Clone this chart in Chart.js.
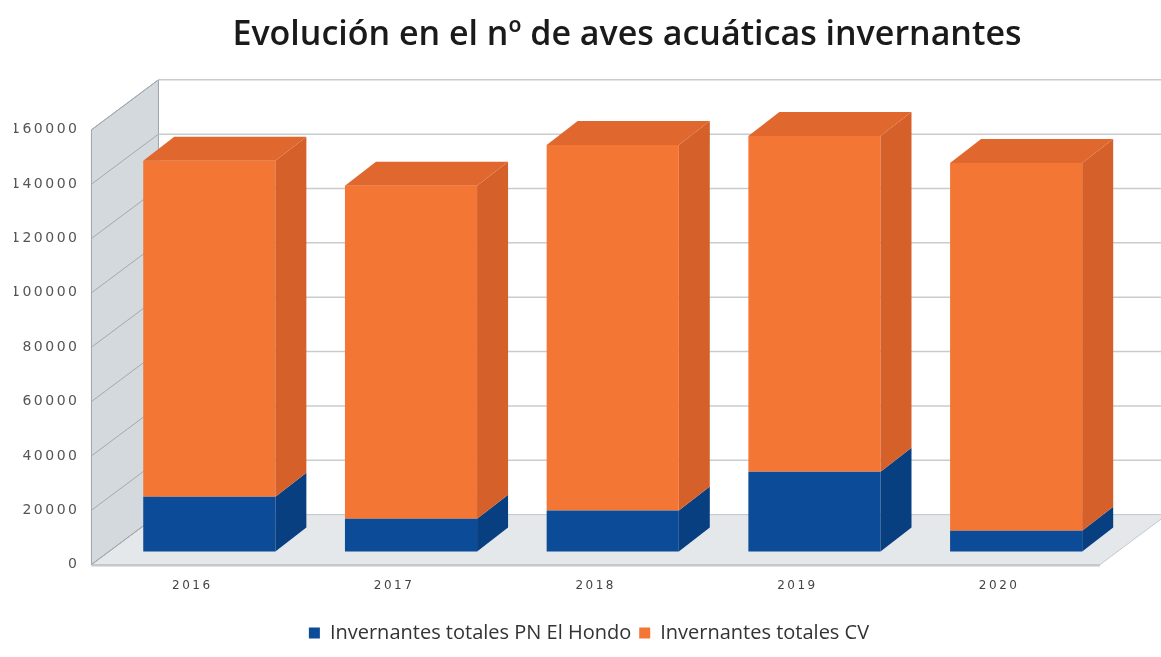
<!DOCTYPE html>
<html>
<head>
<meta charset="utf-8">
<script src="https://cdn.jsdelivr.net/npm/chart.js@4"></script>
<style>
  body { margin: 0; background: #fff; }
  #wrap { width: 1161px; height: 657px; }
</style>
</head>
<body>
<div id="wrap"><canvas id="myChart"></canvas></div>
<script>
// datos
const years = ['2016', '2017', '2018', '2019', '2020'];
const elHondo = [20200, 12100, 15100, 29400, 7700];
const totalCV = [123600, 122500, 134500, 123500, 135300];
const yTicks = [0, 20000, 40000, 60000, 80000, 100000, 120000, 140000, 160000];

// profundidad 3D
const DX = 67, DY = 50;          // fondo del suelo / pared
const BX = 17, BY = 13;          // cara frontal de las barras
const BDX = 31, BDY = 24;        // grosor de las barras

const sideColors = ['#083f80', '#d5602a'];
const topColors = ['#0a4688', '#e0672d'];

const escena3d = {
    id: 'escena3d',
    afterLayout(chart) {
        // el titulo y la leyenda no estan centrados en el lienzo
        chart.titleBlock.left += 70;
        chart.titleBlock.right += 70;
        chart.legend.left += 32;
        chart.legend.right += 32;
        chart.legend.top += 8;
        chart.legend.bottom += 8;
    },
    beforeDatasetsDraw(chart) {
        const ctx = chart.ctx;
        const y = chart.scales.y;
        const a = chart.chartArea;
        const L = a.left, R = a.right;
        const y0 = y.getPixelForValue(0);
        const yTop = y.getPixelForValue(160000);
        ctx.save();
        // suelo
        ctx.beginPath();
        ctx.moveTo(L, y0);
        ctx.lineTo(R, y0);
        ctx.lineTo(R + DX, y0 - DY);
        ctx.lineTo(L + DX, y0 - DY);
        ctx.closePath();
        ctx.fillStyle = '#e4e8eb';
        ctx.fill();
        ctx.strokeStyle = '#c3c7ca';
        ctx.lineWidth = 1;
        ctx.stroke();
        // pared izquierda
        ctx.beginPath();
        ctx.moveTo(L, y0);
        ctx.lineTo(L, yTop);
        ctx.lineTo(L + DX, yTop - DY);
        ctx.lineTo(L + DX, y0 - DY);
        ctx.closePath();
        ctx.fillStyle = '#d4d9dd';
        ctx.fill();
        ctx.strokeStyle = '#9da3a8';
        ctx.stroke();
        // lineas de la cuadricula
        yTicks.forEach(v => {
            const py = y.getPixelForValue(v);
            ctx.beginPath();
            ctx.moveTo(L, py);
            ctx.lineTo(L + DX, py - DY);
            ctx.strokeStyle = '#a3a9ae';
            ctx.stroke();
            if (v > 0) {
                ctx.beginPath();
                ctx.moveTo(L + DX, py - DY);
                ctx.lineTo(R + DX, py - DY);
                ctx.strokeStyle = '#c9cbcd';
                ctx.lineWidth = 1.5;
                ctx.stroke();
                ctx.lineWidth = 1;
            }
        });
        // borde frontal del suelo
        ctx.beginPath();
        ctx.moveTo(L, y0 + 1);
        ctx.lineTo(R, y0 + 1);
        ctx.strokeStyle = '#c4c8cb';
        ctx.lineWidth = 2;
        ctx.stroke();
        ctx.restore();

        ctx.save();
        ctx.translate(BX, -BY);
    },
    afterDatasetsDraw(chart) {
        const ctx = chart.ctx;
        chart.data.datasets.forEach((ds, i) => {
            const meta = chart.getDatasetMeta(i);
            meta.data.forEach(bar => {
                const r = bar.x + bar.width / 2;
                const l = bar.x - bar.width / 2;
                // lateral
                ctx.beginPath();
                ctx.moveTo(r, bar.y);
                ctx.lineTo(r + BDX, bar.y - BDY);
                ctx.lineTo(r + BDX, bar.base - BDY);
                ctx.lineTo(r, bar.base);
                ctx.closePath();
                ctx.fillStyle = sideColors[i];
                ctx.fill();
                // tapa superior (solo la serie de arriba)
                if (i === chart.data.datasets.length - 1) {
                    ctx.beginPath();
                    ctx.moveTo(l, bar.y);
                    ctx.lineTo(l + BDX, bar.y - BDY);
                    ctx.lineTo(r + BDX, bar.y - BDY);
                    ctx.lineTo(r, bar.y);
                    ctx.closePath();
                    ctx.fillStyle = topColors[i];
                    ctx.fill();
                }
            });
        });
        ctx.restore();
        // las etiquetas de los ejes (z: 1) van mas espaciadas
        ctx.letterSpacing = '2.5px';
    },
    afterDraw(chart) {
        chart.ctx.letterSpacing = '0px';
    }
};

const ctx = document.getElementById('myChart').getContext('2d');
const myChart = new Chart(ctx, {
    type: 'bar',
    data: {
        labels: years,
        datasets: [
            {
                label: 'Invernantes totales PN El Hondo',
                data: elHondo,
                backgroundColor: '#0b4b97',
                borderWidth: 0
            },
            {
                label: 'Invernantes totales CV',
                data: totalCV,
                backgroundColor: '#f47634',
                borderWidth: 0
            }
        ]
    },
    options: {
        responsive: true,
        maintainAspectRatio: false,
        animation: false,
        layout: { padding: { left: 14, right: 61, top: 0, bottom: 12 } },
        datasets: { bar: { categoryPercentage: 1, barPercentage: 0.655, clip: false } },
        plugins: {
            title: {
                display: true,
                text: 'Evolución en el nº de aves acuáticas invernantes',
                color: '#1a1a1a',
                font: { family: 'Open Sans', size: 34, weight: '600' },
                padding: { top: 15, bottom: 74 }
            },
            legend: {
                position: 'bottom',
                labels: {
                    boxWidth: 11,
                    boxHeight: 11,
                    padding: 8,
                    color: '#333',
                    font: { family: 'Open Sans', size: 20 }
                }
            },
            tooltip: { enabled: false }
        },
        scales: {
            x: {
                stacked: true,
                grid: { display: false, drawTicks: false },
                border: { display: false },
                ticks: {
                    z: 1,
                    color: '#444',
                    padding: 14,
                    font: { family: 'DejaVu Sans', size: 12 }
                }
            },
            y: {
                stacked: true,
                min: 0,
                max: 160000,
                afterBuildTicks: axis => { axis.ticks = yTicks.map(v => ({ value: v })); },
                grid: { display: false, drawTicks: false },
                border: { display: false },
                ticks: {
                    z: 1,
                    color: '#555',
                    padding: 12,
                    font: { family: 'DejaVu Sans', size: 14 },
                    callback: v => String(v)
                }
            }
        }
    },
    plugins: [escena3d]
});
</script>
</body>
</html>
